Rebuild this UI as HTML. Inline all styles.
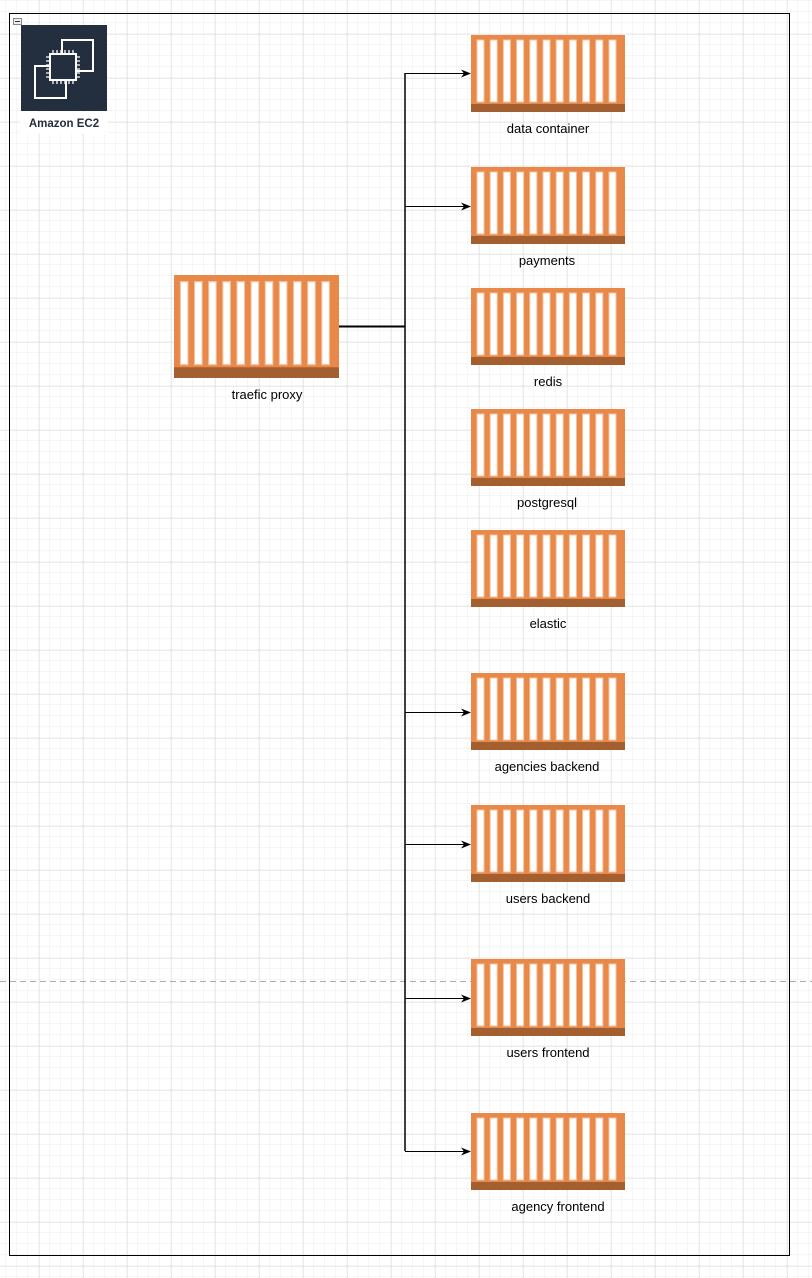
<!DOCTYPE html>
<html><head><meta charset="utf-8"><style>
html,body{margin:0;padding:0;background:#fff;}
body{width:812px;height:1278px;overflow:hidden;position:relative;font-family:"Liberation Sans",Arial,sans-serif;}
</style></head><body>
<svg width="812" height="1278" xmlns="http://www.w3.org/2000/svg" style="position:absolute;left:0;top:0">
<defs>
<pattern id="minor" width="11" height="11" patternUnits="userSpaceOnUse" x="6" y="1">
<path d="M11 0V11M0 11H11" fill="none" stroke="#eeeeee" stroke-width="1"/>
</pattern>
<pattern id="major" width="44" height="44" patternUnits="userSpaceOnUse" x="39.5" y="34.5">
<path d="M0 0V44M0 0H44" fill="none" stroke="#d8d8d8" stroke-width="1"/>
</pattern>
<symbol id="ctr" viewBox="0 0 154 77" preserveAspectRatio="none">
<rect x="0" y="0" width="154" height="77" fill="#e8894a"/>
<rect x="0" y="69" width="154" height="8" fill="#a45f31"/>
<g fill="#fff" stroke="#f3c4a2" stroke-width="1">
<rect x="6" y="5" width="7" height="62"/><rect x="19.2" y="5" width="7" height="62"/><rect x="32.4" y="5" width="7" height="62"/><rect x="45.6" y="5" width="7" height="62"/><rect x="58.8" y="5" width="7" height="62"/><rect x="72" y="5" width="7" height="62"/><rect x="85.2" y="5" width="7" height="62"/><rect x="98.4" y="5" width="7" height="62"/><rect x="111.6" y="5" width="7" height="62"/><rect x="124.8" y="5" width="7" height="62"/><rect x="138" y="5" width="7" height="62"/>
</g>
</symbol>
<marker id="arr" markerWidth="10" markerHeight="8" refX="9" refY="4" orient="auto" markerUnits="userSpaceOnUse">
<path d="M0 0L10 4L0 8L3 4Z" fill="#000"/>
</marker>
</defs>
<rect width="812" height="1278" fill="url(#minor)"/>
<rect width="812" height="1278" fill="url(#major)"/>
<line x1="0" y1="981.5" x2="812" y2="981.5" stroke="#aaa" stroke-dasharray="6,4"/>
<rect x="9.5" y="13.5" width="780" height="1242" fill="none" stroke="#000" stroke-width="1"/>
<rect x="13.5" y="18.5" width="8" height="6" fill="#eee" stroke="#888"/>
<line x1="15" y1="21.5" x2="20" y2="21.5" stroke="#333"/>
<!-- EC2 -->
<rect x="20" y="112" width="88" height="22" fill="#fff"/>
<rect x="21" y="25" width="86" height="86" fill="#232f3e"/>
<g fill="none" stroke="#fff" stroke-width="2">
<rect x="50" y="54" width="26" height="26"/>
<path d="M62 54V40H93V71H76"/>
<path d="M50 66H35V98H66V80"/>
<path d="M53 54V50M57 54V50M61 54V50M65 54V50M69 54V50M73 54V50M53 80V84M57 80V84M61 80V84M65 80V84M69 80V84M73 80V84M50 57H46M50 61H46M50 65H46M50 69H46M50 73H46M50 77H46M76 57H80M76 61H80M76 65H80M76 69H80M76 73H80M76 77H80" stroke-width="1.3"/>
</g>
<text x="64" y="127" text-anchor="middle" font-size="11.5" font-weight="bold" fill="#232f3e">Amazon EC2</text>
<!-- connectors -->
<g stroke="#000" fill="none">
<line x1="339" y1="326.5" x2="405" y2="326.5" stroke-width="2"/>
<line x1="405" y1="73" x2="405" y2="1151" stroke-width="1.5"/>
<line x1="405" y1="73.5" x2="470" y2="73.5" marker-end="url(#arr)"/>
<line x1="405" y1="206.5" x2="470" y2="206.5" marker-end="url(#arr)"/>
<line x1="405" y1="712.5" x2="470" y2="712.5" marker-end="url(#arr)"/>
<line x1="405" y1="844.5" x2="470" y2="844.5" marker-end="url(#arr)"/>
<line x1="405" y1="998.5" x2="470" y2="998.5" marker-end="url(#arr)"/>
<line x1="405" y1="1151.5" x2="470" y2="1151.5" marker-end="url(#arr)"/>
</g>
<use href="#ctr" x="174" y="275" width="165" height="103"/>
<use href="#ctr" x="471" y="35" width="154" height="77"/>
<use href="#ctr" x="471" y="167" width="154" height="77"/>
<use href="#ctr" x="471" y="288" width="154" height="77"/>
<use href="#ctr" x="471" y="409" width="154" height="77"/>
<use href="#ctr" x="471" y="530" width="154" height="77"/>
<use href="#ctr" x="471" y="673" width="154" height="77"/>
<use href="#ctr" x="471" y="805" width="154" height="77"/>
<use href="#ctr" x="471" y="959" width="154" height="77"/>
<use href="#ctr" x="471" y="1113" width="154" height="77"/>
<g font-size="13" fill="#000" text-anchor="middle">
<text x="267" y="399">traefic proxy</text>
<text x="548" y="133">data container</text>
<text x="547" y="265">payments</text>
<text x="548" y="386">redis</text>
<text x="547" y="507">postgresql</text>
<text x="548" y="628">elastic</text>
<text x="547" y="771">agencies backend</text>
<text x="548" y="903">users backend</text>
<text x="548" y="1057">users frontend</text>
<text x="558" y="1211">agency frontend</text>
</g>
</svg>
</body></html>
